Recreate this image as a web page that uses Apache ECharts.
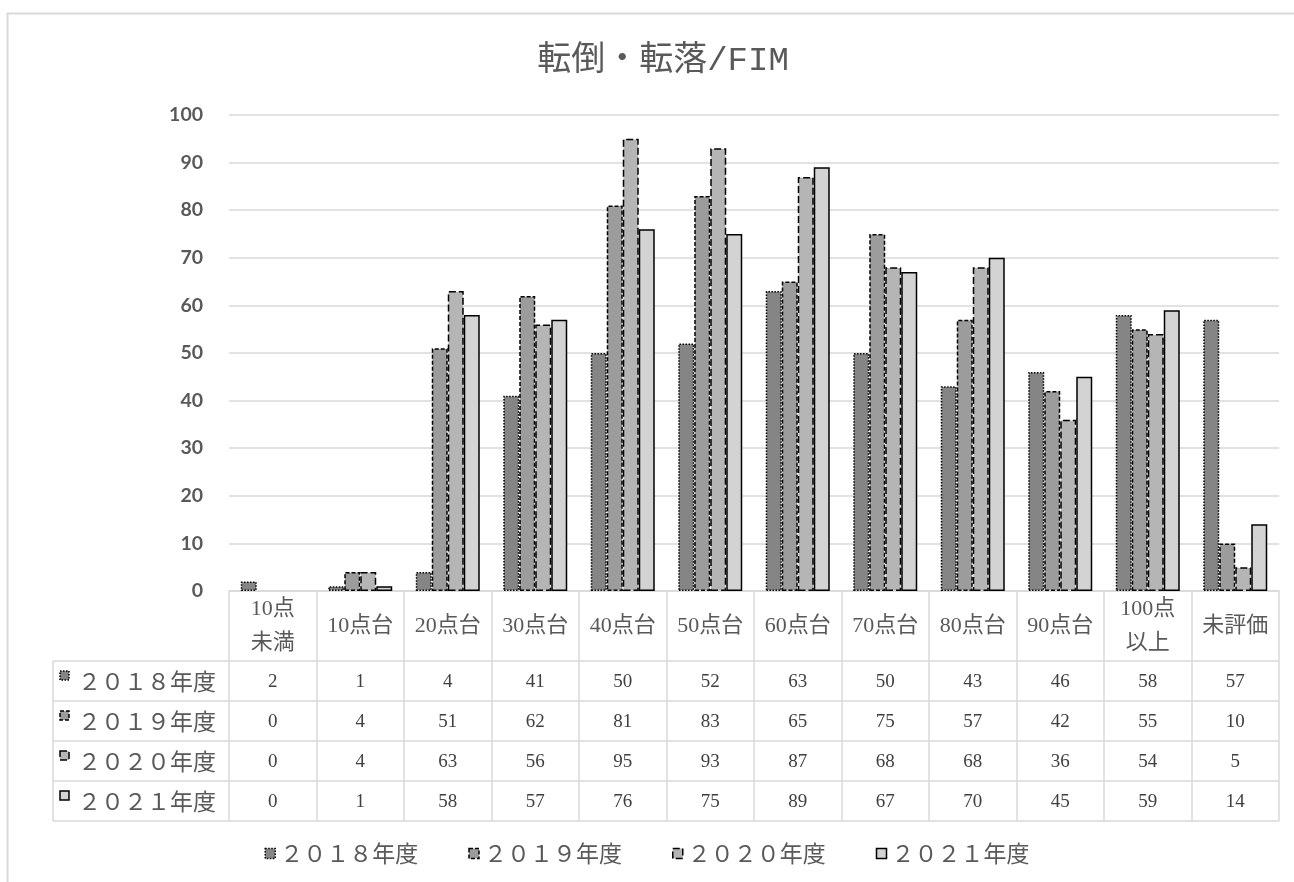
<!DOCTYPE html>
<html>
<head>
<meta charset="utf-8">
<script src="https://cdn.jsdelivr.net/npm/echarts@6/dist/echarts.min.js"></script>
<style>
  html, body { margin: 0; padding: 0; background: #fff; }
  #chart { width: 1294px; height: 882px; }
</style>
</head>
<body>
<div id="chart"></div>
<script>
// Categories (FIM score bands) and yearly counts
const categories = ['10点\n未満', '10点台', '20点台', '30点台', '40点台', '50点台', '60点台', '70点台', '80点台', '90点台', '100点\n以上', '未評価'];
const seriesNames = ['２０１８年度', '２０１９年度', '２０２０年度', '２０２１年度'];
const values2018 = [2, 1, 4, 41, 50, 52, 63, 50, 43, 46, 58, 57];
const values2019 = [0, 4, 51, 62, 81, 83, 65, 75, 57, 42, 55, 10];
const values2020 = [0, 4, 63, 56, 95, 93, 87, 68, 68, 36, 54, 5];
const values2021 = [0, 1, 58, 57, 76, 75, 89, 67, 70, 45, 59, 14];
const yTicks = { min: 0, max: 100, interval: 10 };

const allValues = [values2018, values2019, values2020, values2021];
const fills = ['#858585', '#9c9c9c', '#b5b5b5', '#d3d3d3'];
const borderDashes = [[1.5, 1.5], [4, 2], [7, 3], null];
const gridColor = '#d9d9d9';
const textColor = '#595959';
const sansCJK = '"Noto Sans CJK JP", sans-serif';
const serifMix = '"Liberation Serif", "Noto Sans CJK JP", serif';
const monoMix = '"Liberation Mono", "Noto Sans CJK JP", monospace';

const GRID = { left: 229, right: 15, top: 115, bottom: 291 };
const AXIS_Y = 882 - GRID.bottom;       // pixel row of the category axis
const ROW_TOPS = [661, 701, 741, 781, 821]; // data table row lines
const TABLE_LEFT = 53;

const chart = echarts.init(document.getElementById('chart'), null, { renderer: 'canvas' });

const borderType = i => (borderDashes[i] ? borderDashes[i] : 'solid');

const series = allValues.map((vals, i) => ({
  name: seriesNames[i],
  type: 'bar',
  // empty bars get no outline
  data: vals.map(v => (v === 0 ? { value: v, itemStyle: { borderWidth: 0 } } : v)),
  barWidth: 16,
  barGap: '0%',
  itemStyle: {
    color: fills[i],
    borderColor: '#000',
    borderWidth: 1.5,
    borderType: borderType(i)
  },
  emphasis: { disabled: true }
}));

chart.setOption({
  animation: false,
  backgroundColor: '#fff',
  title: {
    text: '転倒・転落/FIM',
    left: 658,
    textAlign: 'center',
    top: 39,
    textStyle: { fontFamily: monoMix, fontSize: 34, fontWeight: 'normal', color: textColor }
  },
  legend: {
    data: seriesNames.map((n, i) => ({
      name: n,
      itemStyle: { color: fills[i], borderColor: '#000', borderWidth: 1.5, borderType: borderType(i) }
    })),
    bottom: 12,
    left: 'center',
    icon: 'rect',
    itemWidth: 10,
    itemHeight: 10,
    itemGap: 50,
    textStyle: { fontFamily: sansCJK, fontSize: 23, color: textColor }
  },
  grid: GRID,
  xAxis: {
    type: 'category',
    data: categories,
    axisLine: { show: true, lineStyle: { color: gridColor, width: 1.5 } },
    axisTick: { show: true, length: ROW_TOPS[4] - AXIS_Y, lineStyle: { color: gridColor, width: 1.5 } },
    axisLabel: {
      interval: 0,
      margin: 35,
      verticalAlign: 'middle',
      lineHeight: 34,
      fontFamily: serifMix,
      fontSize: 22,
      color: textColor
    }
  },
  yAxis: {
    type: 'value',
    min: yTicks.min,
    max: yTicks.max,
    interval: yTicks.interval,
    axisLine: { show: false },
    axisTick: { show: false },
    splitLine: { lineStyle: { color: gridColor, width: 1.5 } },
    axisLabel: { margin: 26, fontFamily: 'Lato, "Open Sans", sans-serif', fontWeight: 'bold', fontSize: 19.5, color: textColor }
  },
  series: series
});

// Data table under the axis, laid out from the category axis positions
function buildTable() {
  const right = 1294 - GRID.right;
  const elements = [];
  // chart frame
  elements.push({
    type: 'rect', silent: true, z: -10,
    shape: { x: 7.5, y: 13.5, width: 1320, height: 900 },
    style: { fill: null, stroke: gridColor, lineWidth: 2 }
  });
  ROW_TOPS.forEach(y => {
    elements.push({
      type: 'line', silent: true,
      shape: { x1: TABLE_LEFT, y1: y, x2: right, y2: y },
      style: { stroke: gridColor, lineWidth: 1.5 }
    });
  });
  elements.push({
    type: 'line', silent: true,
    shape: { x1: TABLE_LEFT, y1: ROW_TOPS[0], x2: TABLE_LEFT, y2: ROW_TOPS[4] },
    style: { stroke: gridColor, lineWidth: 1.5 }
  });
  allValues.forEach((vals, r) => {
    const yc = (ROW_TOPS[r] + ROW_TOPS[r + 1]) / 2;
    // legend key + series name
    elements.push({
      type: 'rect', silent: true,
      shape: { x: 60, y: yc - 10, width: 9, height: 9 },
      style: { fill: fills[r], stroke: '#000', lineWidth: 1.5, lineDash: borderDashes[r] || null }
    });
    elements.push({
      type: 'text', silent: true,
      x: 78, y: yc,
      style: { text: seriesNames[r], fontFamily: sansCJK, fontSize: 23, fill: textColor, align: 'left', verticalAlign: 'middle' }
    });
    vals.forEach((v, c) => {
      const xc = chart.convertToPixel({ xAxisIndex: 0 }, c);
      elements.push({
        type: 'text', silent: true,
        x: xc, y: yc + 1,
        style: { text: String(v), fontFamily: serifMix, fontSize: 19, fill: '#404040', align: 'center', verticalAlign: 'middle' }
      });
    });
  });
  chart.setOption({ graphic: { elements: elements } });
}
buildTable();
</script>
</body>
</html>
